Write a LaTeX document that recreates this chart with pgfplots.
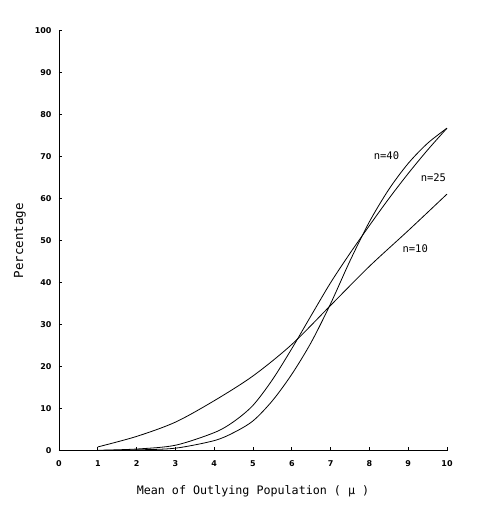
\documentclass[border=0pt]{standalone}
\usepackage{fontspec}
\setmainfont{DejaVu Sans}
\newfontfamily\plotmono{DejaVu Sans Mono}
\usepackage{pgfplots}
\pgfplotsset{compat=1.18}

\begin{document}
\begin{tikzpicture}
\useasboundingbox (-59pt,-74.3pt) rectangle (418pt,450.7pt);
\begin{axis}[
  scale only axis,
  width=388pt, height=420pt,
  xmin=0, xmax=10, ymin=0, ymax=100,
  axis lines=left,
  axis line style={-, line width=0.8pt},
  xtick={0,1,...,10},
  ytick={0,10,...,100},
  tick align=inside,
  major tick length=3.5pt,
  tick style={line width=0.7pt, black},
  /pgf/number format/assume math mode=true,
  ticklabel style={font=\fontsize{8}{9}\selectfont\bfseries},
  xticklabel style={yshift=-6pt},
  yticklabel style={xshift=-4pt},
  xlabel={\plotmono\fontsize{11.7}{13}\selectfont Mean of Outlying Population ( μ )},
  ylabel={\plotmono\fontsize{12.5}{14}\selectfont Percentage},
  xlabel style={yshift=-12pt},
  ylabel style={yshift=2pt},
  clip=false,
]
% n = 10
\addplot[black, no markers, line width=0.8pt, smooth, tension=0.5]
  coordinates {(1,0.9) (2,3.4) (3,6.8) (4,11.9) (5,17.8) (6,25.3) (7,34.6) (8,43.9) (9,52.4) (10,61.1)};
% n = 25
\addplot[black, no markers, line width=0.8pt, smooth, tension=0.5]
  coordinates {(1,0.1) (2,0.4) (3,1.3) (4,4.3) (4.5,6.9) (5,10.8) (5.5,16.9) (6,24.3) (6.5,32.2)
               (7,40.0) (7.5,47.0) (8,53.6) (8.5,60.0) (9,66.0) (9.5,71.6) (10,76.8)};
% n = 40
\addplot[black, no markers, line width=0.8pt, smooth, tension=0.5]
  coordinates {(1,0.05) (2,0.2) (3,0.6) (4,2.4) (4.5,4.3) (5,7.1) (5.5,11.9) (6,18.2) (6.5,25.8)
               (7,35.0) (7.5,45.2) (8,54.5) (8.5,62.2) (9,68.4) (9.5,73.2) (10,76.8)};

\node[font=\plotmono\fontsize{10.5}{12}\selectfont] at (axis cs:8.44,70.2) {n=40};
\node[font=\plotmono\fontsize{10.5}{12}\selectfont] at (axis cs:9.65,65.1) {n=25};
\node[font=\plotmono\fontsize{10.5}{12}\selectfont] at (axis cs:9.18,48.2) {n=10};
\end{axis}
\end{tikzpicture}
\end{document}
